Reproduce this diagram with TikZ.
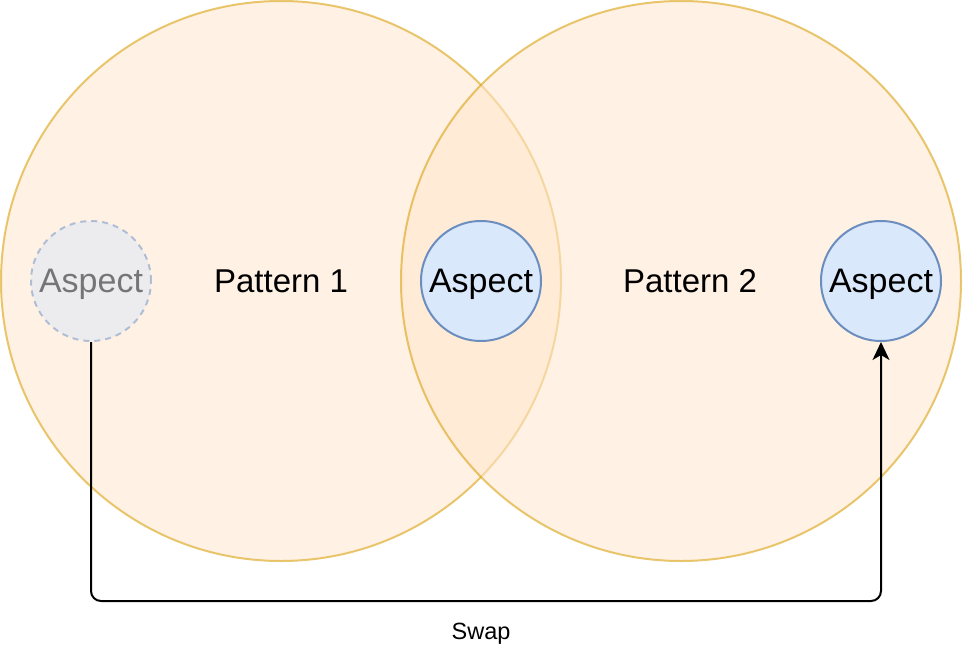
\documentclass[tikz,border=0pt]{standalone}
\usepackage{fontspec}
\setmainfont{Liberation Sans}
\usetikzlibrary{arrows.meta}
\definecolor{pfill}{HTML}{FFE6CC}
\definecolor{pstroke}{HTML}{D79B00}
\definecolor{afill}{HTML}{DAE8FC}
\definecolor{astroke}{HTML}{6C8EBF}
\tikzset{
  pattern/.style={circle, draw=pstroke, fill=pfill, line width=2pt, opacity=0.55, minimum size=560pt, inner sep=0pt},
  aspect/.style={circle, draw=astroke, fill=afill, line width=2pt, minimum size=120pt, inner sep=0pt, text height=23pt, text depth=0pt, font=\fontsize{34}{38}\selectfont},
  ghost/.style={aspect, opacity=0.5, dash pattern=on 6pt off 5pt},
  lbl/.style={font=\fontsize{33}{38}\selectfont, inner sep=0pt, text height=23pt, text depth=0pt},
  conn/.style={line width=2pt, rounded corners=10pt, -{Stealth[length=18pt,width=17pt,inset=5pt]}}
}
\begin{document}
\begin{tikzpicture}[x=1pt,y=-1pt]
\useasboundingbox (0,0) rectangle (964,664);
\node[pattern] (p1) at (281,281) {};
\node[pattern] (p2) at (681,281) {};
\node[lbl] (t1) at (281,281) {Pattern 1};
\node[lbl] (t2) at (690,281) {Pattern 2};
\node[ghost] (g) at (91,281) {Aspect};
\node[aspect] (m) at (481,281) {Aspect};
\node[aspect] (r) at (881,281) {Aspect};
\coordinate (c1) at (91,601);
\coordinate (c2) at (881,601);
\draw[conn] (g.south) -- (c1) -- (c2) -- (r.south);
\node[font=\fontsize{23.5}{28}\selectfont, inner sep=0pt, text height=17pt, text depth=0pt] (sw) at (481,631) {Swap};
\end{tikzpicture}
\end{document}
